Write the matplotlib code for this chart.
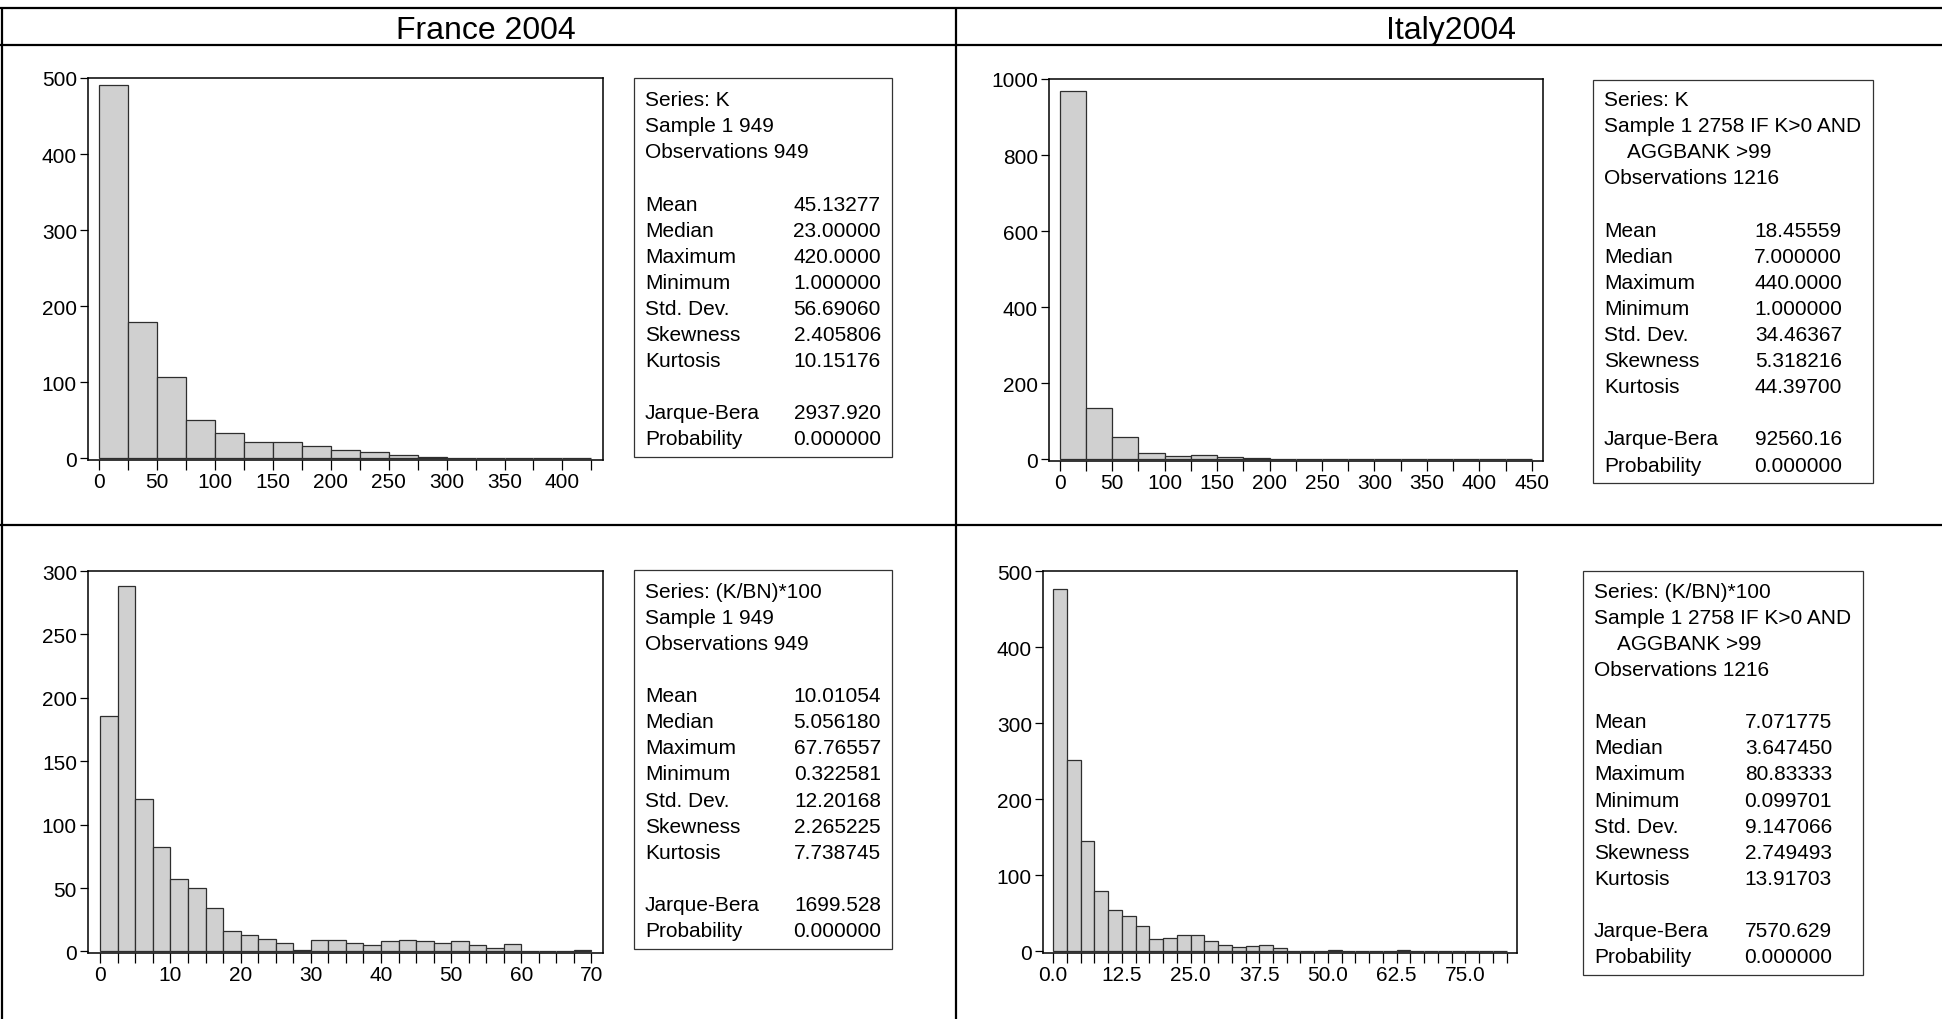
import numpy as np
import matplotlib
matplotlib.use("Agg")
import matplotlib.pyplot as plt
from matplotlib.patches import Rectangle

plt.rcParams['font.family'] = ['Liberation Sans', 'DejaVu Sans']

# ---------------------------------------------------------------- data
col_titles = ["France 2004", "Italy2004"]

# France, K (bin width 25)
fr_k_width = 25.0
fr_k_counts = [491, 179, 107, 50, 33, 21, 21, 17, 11, 9, 5, 2, 1, 0, 0, 1, 1]
fr_k_xticks = [0, 50, 100, 150, 200, 250, 300, 350, 400]
fr_k_yticks = [0, 100, 200, 300, 400, 500]

# Italy, K (bin width 25)
it_k_width = 25.0
it_k_counts = [968, 136, 58, 16, 8, 13, 6, 4, 2, 0, 1, 0, 1, 0, 1, 0, 1, 1]
it_k_xticks = [0, 50, 100, 150, 200, 250, 300, 350, 400, 450]
it_k_yticks = [0, 200, 400, 600, 800, 1000]

# France, (K/BN)*100 (bin width 2.5)
fr_kbn_width = 2.5
fr_kbn_counts = [186, 288, 120, 82, 57, 50, 34, 16, 13, 10, 7, 1, 9, 9, 7, 5,
                 8, 9, 8, 7, 8, 5, 3, 6, 0, 0, 0, 1]
fr_kbn_xticks = [0, 10, 20, 30, 40, 50, 60, 70]
fr_kbn_yticks = [0, 50, 100, 150, 200, 250, 300]

# Italy, (K/BN)*100 (bin width 2.5)
it_kbn_width = 2.5
it_kbn_counts = [477, 252, 145, 79, 55, 46, 33, 17, 18, 21, 21, 14, 8, 6, 7, 8,
                 4, 0, 0, 0, 2, 0, 0, 0, 0, 2, 0, 0, 0, 0, 0, 0, 1]
it_kbn_xticks = [0.0, 12.5, 25.0, 37.5, 50.0, 62.5, 75.0]
it_kbn_yticks = [0, 100, 200, 300, 400, 500]

stat_names = ["Mean", "Median", "Maximum", "Minimum", "Std. Dev.",
              "Skewness", "Kurtosis"]
test_names = ["Jarque-Bera", "Probability"]

fr_k_head = ["Series: K", "Sample 1 949", "Observations 949"]
fr_k_values = ["45.13277", "23.00000", "420.0000", "1.000000", "56.69060",
               "2.405806", "10.15176"]
fr_k_tests = ["2937.920", "0.000000"]

it_k_head = ["Series: K", "Sample 1 2758 IF K>0 AND", "AGGBANK >99",
             "Observations 1216"]
it_k_values = ["18.45559", "7.000000", "440.0000", "1.000000", "34.46367",
               "5.318216", "44.39700"]
it_k_tests = ["92560.16", "0.000000"]

fr_kbn_head = ["Series: (K/BN)*100", "Sample 1 949", "Observations 949"]
fr_kbn_values = ["10.01054", "5.056180", "67.76557", "0.322581", "12.20168",
                 "2.265225", "7.738745"]
fr_kbn_tests = ["1699.528", "0.000000"]

it_kbn_head = ["Series: (K/BN)*100", "Sample 1 2758 IF K>0 AND", "AGGBANK >99",
               "Observations 1216"]
it_kbn_values = ["7.071775", "3.647450", "80.83333", "0.099701", "9.147066",
                 "2.749493", "13.91703"]
it_kbn_tests = ["7570.629", "0.000000"]

# ---------------------------------------------------------------- layout
W, H = 1942, 1020
fig = plt.figure(figsize=(W / 100, H / 100), dpi=100)
fig.patch.set_facecolor("white")


def rect(x0, y0, x1, y1):
    return [x0 / W, 1 - y1 / H, (x1 - x0) / W, (y1 - y0) / H]


BAR_FACE = "#d0d0d0"
BAR_EDGE = "#2e2e2e"
TICK_FS = 15


def histogram(box, counts, width, xlim, n_ticks, xlabels, xfmt, yticks):
    ax = fig.add_axes(rect(*box))
    counts = np.asarray(counts, dtype=float)
    left = np.arange(len(counts)) * width
    ax.bar(left, counts, width=width, align="edge", color=BAR_FACE,
           edgecolor=BAR_EDGE, linewidth=0.9, zorder=2)
    top = yticks[-1]
    ax.set_xlim(*xlim)
    ax.set_ylim(-top * 0.004, top)
    ticks = np.arange(n_ticks + 1) * width
    labels = []
    for t in ticks:
        if any(abs(t - v) < 1e-9 for v in xlabels):
            labels.append(xfmt.format(t))
        else:
            labels.append("")
    ax.set_xticks(ticks)
    ax.set_xticklabels(labels)
    ax.set_yticks(yticks)
    ax.set_yticklabels([str(v) for v in yticks])
    ax.tick_params(axis="both", direction="out", length=7, width=0.9,
                   labelsize=TICK_FS, colors="black", pad=2)
    ax.tick_params(axis="y", length=6)
    for s in ax.spines.values():
        s.set_linewidth(1.1)
        s.set_color("black")
    return ax


histogram((88, 79, 603, 461), fr_k_counts, fr_k_width, (-9.6, 435.0), 17,
          fr_k_xticks, "{:.0f}", fr_k_yticks)
histogram((1049, 80, 1543, 462), it_k_counts, it_k_width, (-10.2, 460.6), 18,
          it_k_xticks, "{:.0f}", it_k_yticks)
histogram((88, 572, 603, 954), fr_kbn_counts, fr_kbn_width, (-1.75, 71.64), 28,
          fr_kbn_xticks, "{:.0f}", fr_kbn_yticks)
histogram((1043, 572, 1517, 954), it_kbn_counts, it_kbn_width, (-1.86, 84.4), 33,
          it_kbn_xticks, "{:.1f}", it_kbn_yticks)

# ---------------------------------------------------------------- overlay: table and statistics boxes
ov = fig.add_axes([0, 0, 1, 1])
ov.set_xlim(0, W)
ov.set_ylim(H, 0)
ov.axis("off")

LINE_W = 1.6
ov.plot([0, W], [9, 9], color="black", lw=LINE_W, solid_capstyle="butt")
ov.plot([0, W], [46, 46], color="black", lw=LINE_W, solid_capstyle="butt")
ov.plot([0, W], [526, 526], color="black", lw=LINE_W, solid_capstyle="butt")
ov.plot([1.5, 1.5], [9, H], color="black", lw=LINE_W, solid_capstyle="butt")
ov.plot([956, 956], [9, H], color="black", lw=LINE_W, solid_capstyle="butt")

ov.text(486, 39, col_titles[0], ha="center", va="baseline", fontsize=23)
ov.text(1451, 39, col_titles[1], ha="center", va="baseline", fontsize=23)

STAT_FS = 15.0
LINE_H = 26.1


def stats_box(box, x_text, x_indent, x_val, y_first, head, values, tests):
    x0, y0, x1, y1 = box
    ov.add_patch(Rectangle((x0, y0), x1 - x0, y1 - y0, fill=False,
                           edgecolor="#333333", lw=0.9))
    row = 0
    for line in head:
        x = x_indent if line.startswith("AGGBANK") else x_text
        ov.text(x, y_first + row * LINE_H, line, ha="left", va="center",
                fontsize=STAT_FS)
        row += 1
    row += 1
    for name, val in zip(stat_names, values):
        y = y_first + row * LINE_H
        ov.text(x_text, y, name, ha="left", va="center", fontsize=STAT_FS)
        ov.text(x_val, y, val, ha="right", va="center", fontsize=STAT_FS)
        row += 1
    row += 1
    for name, val in zip(test_names, tests):
        y = y_first + row * LINE_H
        ov.text(x_text, y, name, ha="left", va="center", fontsize=STAT_FS)
        ov.text(x_val, y, val, ha="right", va="center", fontsize=STAT_FS)
        row += 1


stats_box((634, 79, 892, 458), 645, 645, 881, 100.7,
          fr_k_head, fr_k_values, fr_k_tests)
stats_box((1593, 81, 1873, 484), 1604, 1627, 1842, 100.7,
          it_k_head, it_k_values, it_k_tests)
stats_box((634, 571, 892, 950), 645, 645, 881, 592.3,
          fr_kbn_head, fr_kbn_values, fr_kbn_tests)
stats_box((1583, 572, 1863, 976), 1594, 1617, 1832, 592.3,
          it_kbn_head, it_kbn_values, it_kbn_tests)

fig.savefig("out.png", dpi=100, facecolor="white")
